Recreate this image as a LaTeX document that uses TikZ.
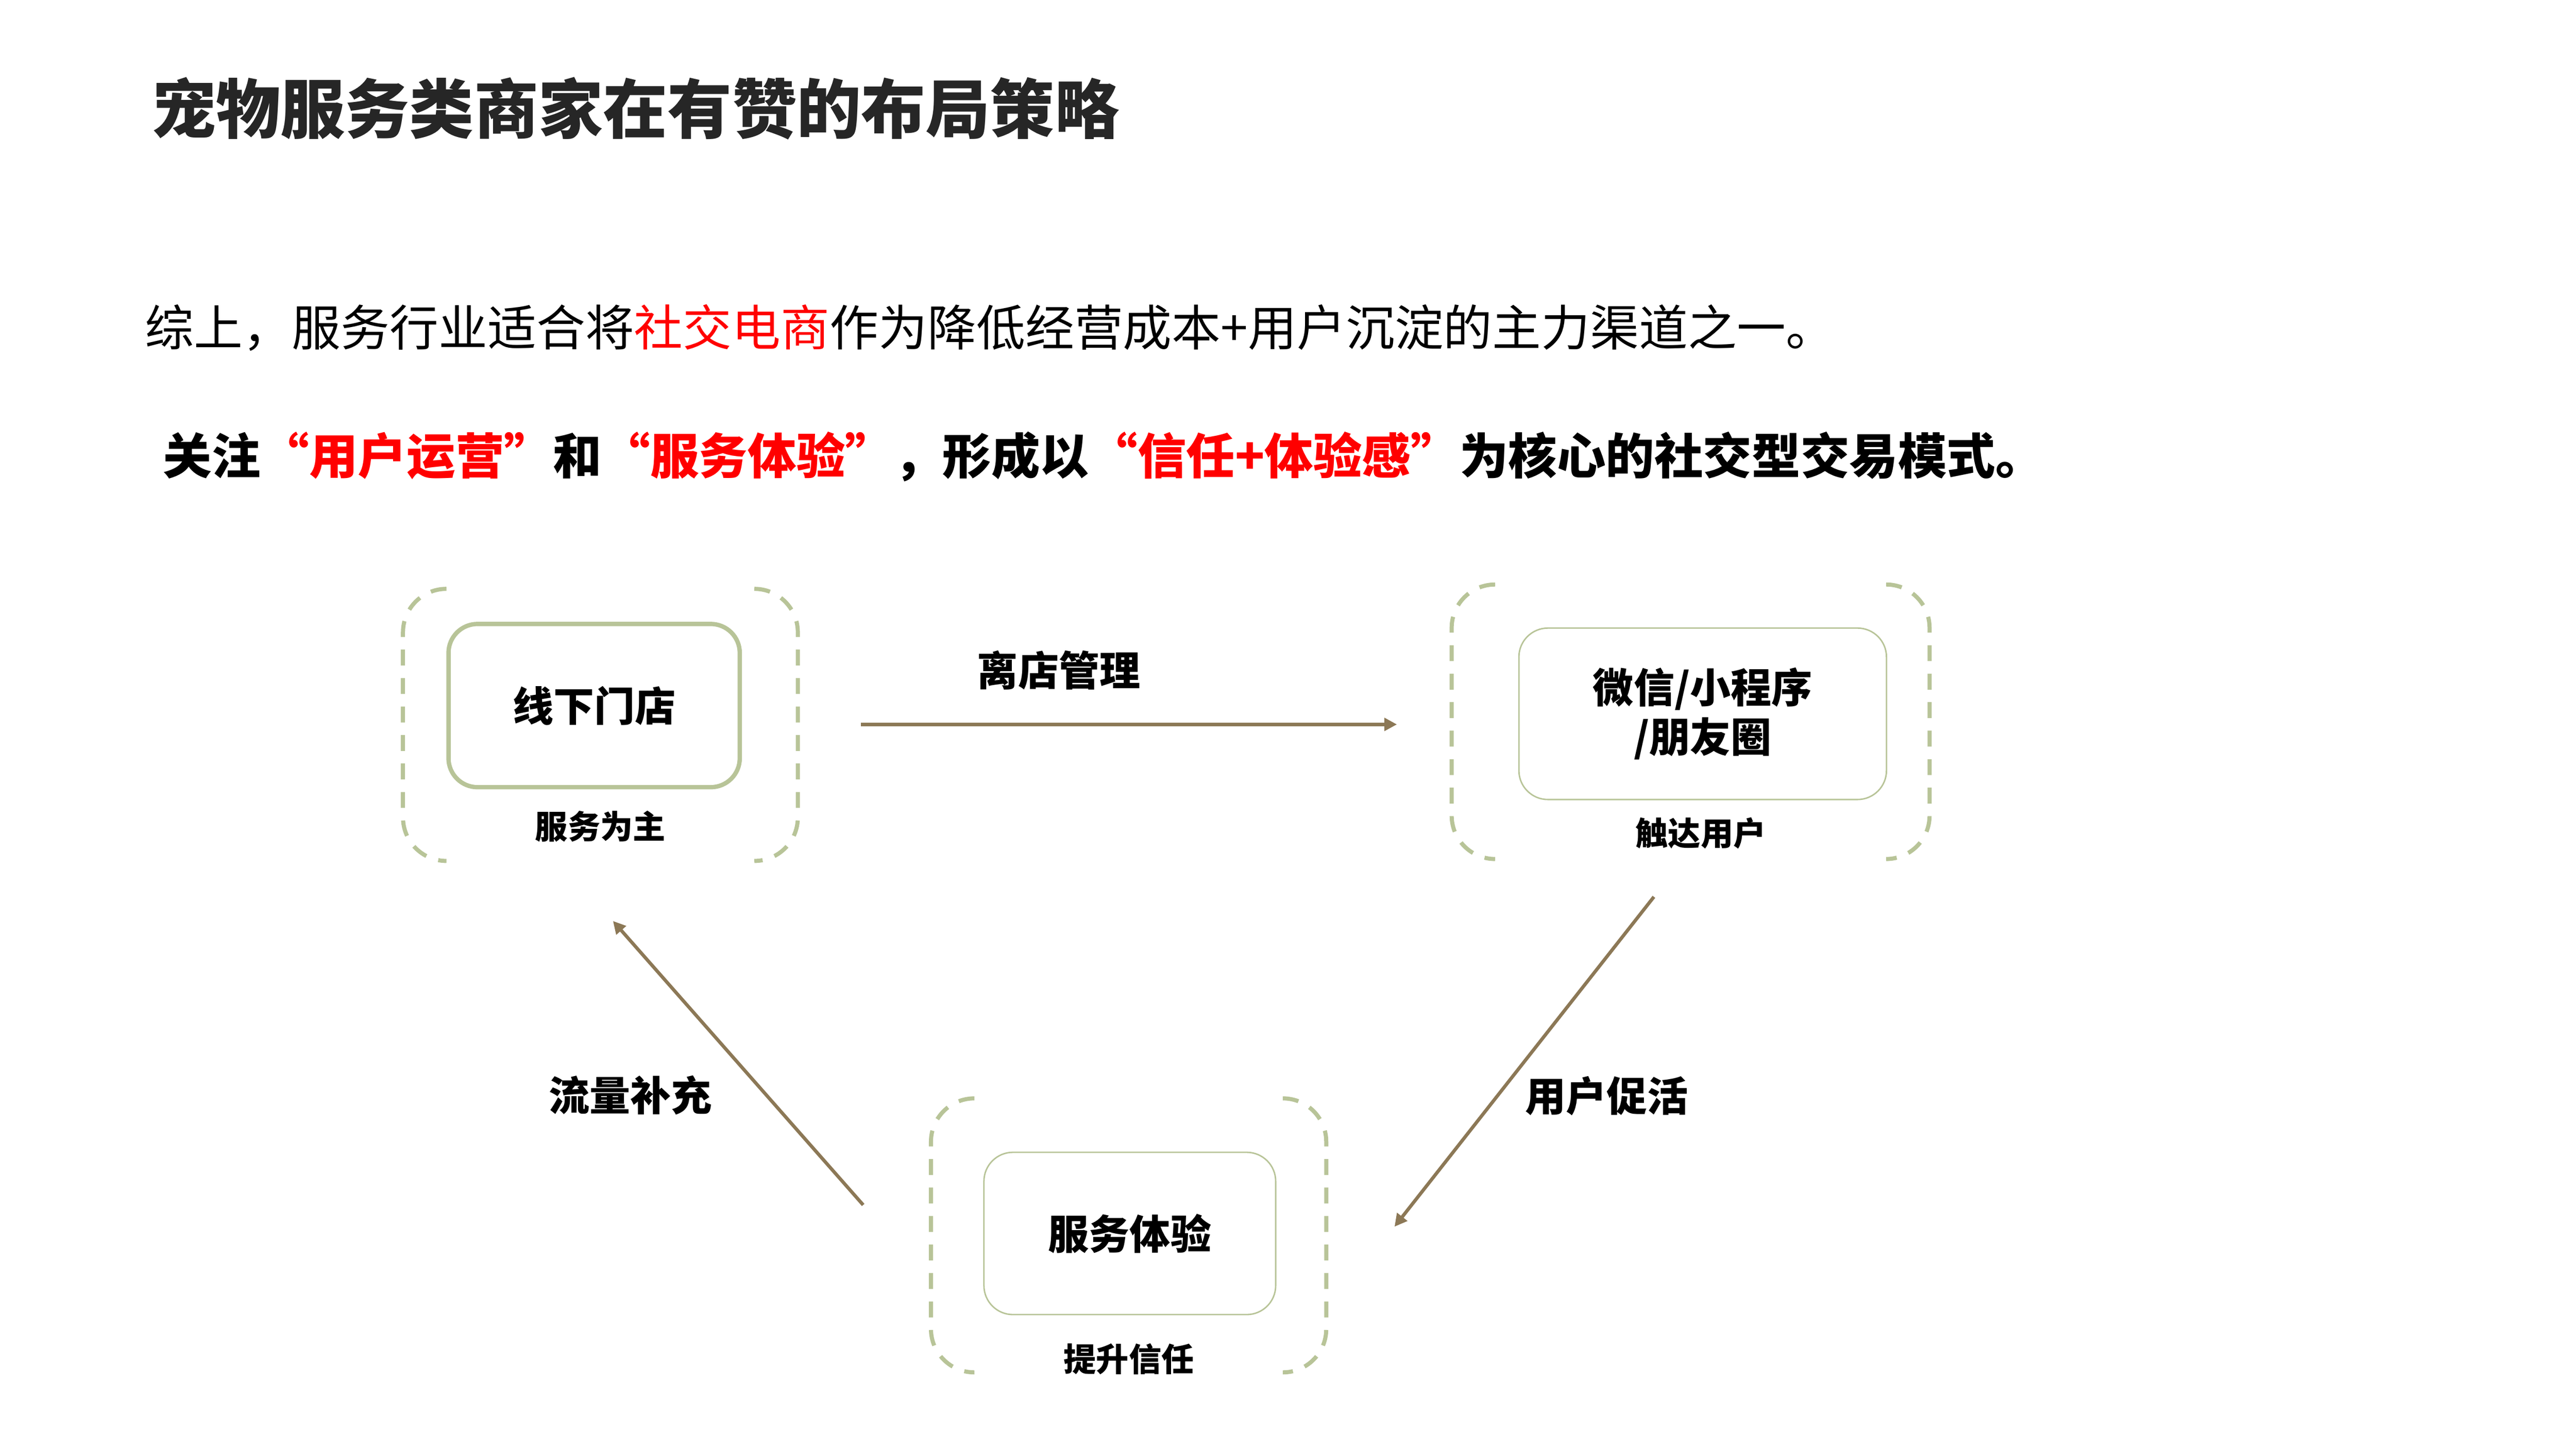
\documentclass[tikz,border=0pt]{standalone}
\usepackage{fontspec}
\setmainfont{Noto Sans CJK SC}
\usepackage{xcolor}
\usepackage{tikz}
\usetikzlibrary{arrows.meta,calc,positioning}

\definecolor{sage}{RGB}{184,196,152}
\definecolor{umber}{RGB}{140,120,86}
\definecolor{titlegray}{RGB}{38,38,38}
\definecolor{hotred}{RGB}{255,0,0}

% dashed brackets left and right of a group node
\newcommand{\grpframe}[1]{%
	\draw[grpline] ($(#1.north west)+(0.9,0)$) arc (90:180:0.9) -- ($(#1.south west)+(0,0.9)$) arc (180:270:0.9);
	\draw[grpline] ($(#1.north east)+(-0.9,0)$) arc (90:0:0.9) -- ($(#1.south east)+(0,0.9)$) arc (0:-90:0.9);}

\begin{document}
\begin{tikzpicture}[arrow/.style = {line width=0.07cm, draw=umber, -{Triangle[length=0.26cm,width=0.26cm]}}, node distance=2.5cm]
		\tikzset{box/.style={draw=sage,rectangle,rounded corners=0.6cm,fill=white,inner sep=0pt,align=center,font=\bfseries\fontsize{24pt}{29.3pt}\selectfont}}
		\tikzset{tag/.style={inner sep=0pt,font=\bfseries\fontsize{19.2pt}{23pt}\selectfont}}
		\tikzset{flow/.style={inner sep=0pt,font=\bfseries\fontsize{24pt}{29pt}\selectfont}}
		\tikzset{grpline/.style={draw=sage,line width=0.085cm,dash pattern=on 0.33cm off 0.26cm}}
		\tikzset{grp/.style={rectangle,inner sep=0pt}}

		\useasboundingbox (0,0) rectangle (53.33,-30);

		% Heading
		\node[anchor=west, inner sep=0pt, text=titlegray, font=\bfseries\fontsize{38pt}{46pt}\selectfont] (title) at (3.13,-2.25) {宠物服务类商家在有赞的布局策略};

		\node[anchor=west, inner sep=0pt, font=\fontsize{28.8pt}{35pt}\selectfont] (summary) at (3.0,-6.79) {综上，服务行业适合将\textcolor{hotred}{社交电商}作为降低经营成本+用户沉淀的主力渠道之一。};

		\node[anchor=west, inner sep=0pt, font=\bfseries\fontsize{28.7pt}{35pt}\selectfont] (focus) at (3.37,-9.46) {关注\textcolor{hotred}{“用户运营”}和\textcolor{hotred}{“服务体验”}，形成以\textcolor{hotred}{“信任+体验感”}为核心的社交型交易模式。};

		% Offline store
		\node[grp, minimum width=8.16cm, minimum height=5.62cm] (storegrp) at (12.43,-15.01) {};
		\node[box, line width=0.09cm, minimum width=6.03cm, minimum height=3.38cm] (store) at (12.30,-14.61) {线下门店};
		\node[tag] (storetag) at (12.43,-17.11) {服务为主};

		% WeChat
		\node[grp, minimum width=9.88cm, minimum height=5.67cm] (wechatgrp) at (35.00,-14.945) {};
		\node[box, line width=0.03cm, minimum width=7.61cm, minimum height=3.55cm] (wechat) at (35.25,-14.78) {微信/小程序\\/朋友圈};
		\node[tag] (wechattag) at (35.21,-17.25) {触达用户};

		% Service
		\node[grp, minimum width=8.17cm, minimum height=5.66cm] (servicegrp) at (23.365,-25.58) {};
		\node[box, line width=0.03cm, minimum width=6.04cm, minimum height=3.36cm] (service) at (23.39,-25.54) {服务体验};
		\node[tag] (servicetag) at (23.37,-28.14) {提升信任};

		\grpframe{storegrp}
		\grpframe{wechatgrp}
		\grpframe{servicegrp}

		% Arrows
		\coordinate (mgmtfrom) at (17.82,-15.00);
		\coordinate (mgmtto) at (28.92,-15.00);
		\coordinate (activefrom) at (34.24,-18.57);
		\coordinate (activeto) at (28.87,-25.40);
		\coordinate (trafficfrom) at (17.87,-24.95);
		\coordinate (trafficto) at (12.69,-19.07);

		\draw [arrow] (mgmtfrom) -- (mgmtto);
		\draw [arrow] (activefrom) -- (activeto);
		\draw [arrow] (trafficfrom) -- (trafficto);

		\node[flow] (mgmt) at (21.92,-13.88) {离店管理};
		\node[flow] (active) at (33.26,-22.69) {用户促活};
		\node[flow] (traffic) at (13.05,-22.68) {流量补充};

	\end{tikzpicture}
\end{document}
